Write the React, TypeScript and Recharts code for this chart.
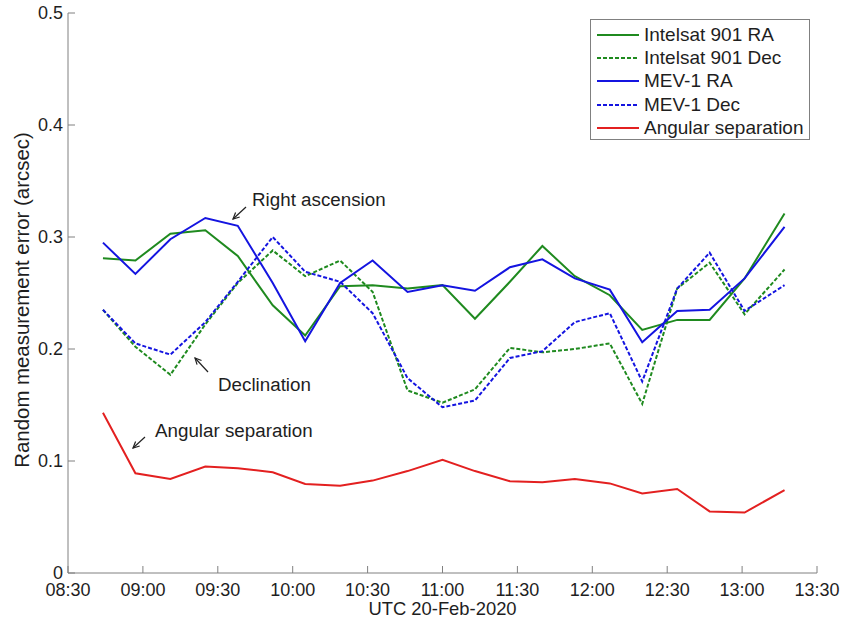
import React from 'react';
import { LineChart, Line, XAxis, YAxis, Legend } from 'recharts';

// observation epochs (UTC, 20-Feb-2020)
const times = [
  '08:44', '08:57', '09:11', '09:25', '09:38', '09:52', '10:05', '10:19', '10:32', '10:46',
  '11:00', '11:13', '11:27', '11:40', '11:53', '12:07', '12:20', '12:34', '12:47', '13:01', '13:17',
];

// random measurement error, arcsec
const intelsatRA = [
  0.281, 0.279, 0.303, 0.306, 0.283, 0.239, 0.212, 0.256, 0.257, 0.254,
  0.257, 0.227, 0.26, 0.292, 0.265, 0.248, 0.217, 0.226, 0.226, 0.263, 0.321,
];
const intelsatDec = [
  0.235, 0.202, 0.177, 0.222, 0.259, 0.288, 0.265, 0.279, 0.251, 0.163,
  0.152, 0.164, 0.201, 0.197, 0.2, 0.205, 0.151, 0.254, 0.277, 0.231, 0.271,
];
const mevRA = [
  0.295, 0.267, 0.298, 0.317, 0.31, 0.259, 0.207, 0.259, 0.279, 0.251,
  0.257, 0.252, 0.273, 0.28, 0.263, 0.253, 0.206, 0.234, 0.235, 0.263, 0.309,
];
const mevDec = [
  0.235, 0.205, 0.195, 0.224, 0.26, 0.3, 0.269, 0.26, 0.232, 0.174,
  0.148, 0.154, 0.192, 0.198, 0.224, 0.232, 0.171, 0.254, 0.286, 0.234, 0.257,
];
const angularSep = [
  0.143, 0.089, 0.084, 0.095, 0.0935, 0.09, 0.0795, 0.078, 0.0825, 0.091,
  0.101, 0.091, 0.082, 0.081, 0.084, 0.08, 0.071, 0.075, 0.055, 0.054, 0.074,
];

const xTickLabels = ['08:30', '09:00', '09:30', '10:00', '10:30', '11:00', '11:30', '12:00', '12:30', '13:00', '13:30'];
const yTicks = [0, 0.1, 0.2, 0.3, 0.4, 0.5];

const toMin = (t: string) => {
  const [h, m] = t.split(':').map(Number);
  return h * 60 + m;
};
const fmtTime = (v: number) =>
  `${String(Math.floor(v / 60)).padStart(2, '0')}:${String(v % 60).padStart(2, '0')}`;

const xTicks = xTickLabels.map(toMin);

const data = times.map((t, i) => ({
  t: toMin(t),
  intelsatRA: intelsatRA[i],
  intelsatDec: intelsatDec[i],
  mevRA: mevRA[i],
  mevDec: mevDec[i],
  angularSep: angularSep[i],
}));

const series = [
  { key: 'intelsatRA', name: 'Intelsat 901 RA', color: '#1f8a1f', dash: undefined },
  { key: 'intelsatDec', name: 'Intelsat 901 Dec', color: '#1f8a1f', dash: '4 2' },
  { key: 'mevRA', name: 'MEV-1 RA', color: '#1414e0', dash: undefined },
  { key: 'mevDec', name: 'MEV-1 Dec', color: '#1414e0', dash: '4 2' },
  { key: 'angularSep', name: 'Angular separation', color: '#e32020', dash: undefined },
];

const FONT = '"Liberation Sans", Arial, Helvetica, sans-serif';
const AXIS = '#808080';
const TEXT = '#1e1e1e';

const LegendBox = () => (
  <div
    style={{
      width: 220,
      height: 121,
      boxSizing: 'border-box',
      border: `1px solid ${AXIS}`,
      background: '#fff',
      padding: '3px 0 0 6px',
      fontFamily: FONT,
      fontSize: 19,
      color: TEXT,
    }}
  >
    {series.map((s) => (
      <div key={s.key} style={{ display: 'flex', alignItems: 'center', height: 23.3, whiteSpace: 'nowrap' }}>
        <svg width={42} height={4} style={{ marginRight: 5 }}>
          <line x1={0} y1={2} x2={42} y2={2} stroke={s.color} strokeWidth={2} strokeDasharray={s.dash} />
        </svg>
        <span>{s.name}</span>
      </div>
    ))}
  </div>
);

// small arrows used for the in-plot notes
const Arrow = ({ x1, y1, x2, y2 }: { x1: number; y1: number; x2: number; y2: number }) => {
  const a = Math.atan2(y2 - y1, x2 - x1);
  const h = 7;
  const p1 = [x2 - h * Math.cos(a - 0.45), y2 - h * Math.sin(a - 0.45)];
  const p2 = [x2 - h * Math.cos(a + 0.45), y2 - h * Math.sin(a + 0.45)];
  return (
    <g stroke="#222" strokeWidth={1.2} fill="none">
      <line x1={x1} y1={y1} x2={x2} y2={y2} />
      <polyline points={`${p1[0]},${p1[1]} ${x2},${y2} ${p2[0]},${p2[1]}`} />
    </g>
  );
};

const Notes = () => (
  <svg
    width={843}
    height={623}
    style={{ position: 'absolute', left: 0, top: 0, pointerEvents: 'none' }}
    fontFamily={FONT}
    fontSize={18.8}
    fill={TEXT}
  >
    <text x={252} y={206}>Right ascension</text>
    <Arrow x1={246} y1={207} x2={233} y2={219} />
    <text x={218} y={391}>Declination</text>
    <Arrow x1={208} y1={372} x2={195} y2={358} />
    <text x={155} y={437}>Angular separation</text>
    <Arrow x1={145} y1={437} x2={133} y2={448} />
  </svg>
);

export default function App() {
  return (
    <div style={{ position: 'absolute', left: 0, top: 0, width: 843, height: 623, background: '#fff' }}>
      <LineChart width={843} height={623} data={data} margin={{ top: 13, right: 26, bottom: 0, left: 0 }}>
        <XAxis
          dataKey="t"
          type="number"
          domain={[xTicks[0], xTicks[xTicks.length - 1]]}
          ticks={xTicks}
          tickFormatter={fmtTime}
          height={50}
          stroke={AXIS}
          tickSize={-7}
          tickMargin={17}
          tick={{ fill: TEXT, fontSize: 18, fontFamily: FONT }}
          label={{
            content: ({ viewBox }: any) => (
              <text
                x={viewBox.x + viewBox.width / 2}
                y={viewBox.y + 35}
                textAnchor="middle"
                dominantBaseline="central"
                fill={TEXT}
                fontSize={18.4}
                fontFamily={FONT}
              >
                UTC 20-Feb-2020
              </text>
            ),
          }}
        />
        <XAxis
          xAxisId="top"
          dataKey="t"
          type="number"
          orientation="top"
          domain={[xTicks[0], xTicks[xTicks.length - 1]]}
          ticks={xTicks}
          height={0}
          stroke={AXIS}
          tickSize={-7}
          tick={false}
        />
        <YAxis
          type="number"
          domain={[0, 0.5]}
          ticks={yTicks}
          width={68}
          stroke={AXIS}
          tickSize={-7}
          tickMargin={12}
          tick={{ fill: TEXT, fontSize: 18, fontFamily: FONT }}
          label={{
            content: ({ viewBox }: any) => {
              const cx = viewBox.x + 22;
              const cy = viewBox.y + viewBox.height / 2 + 7;
              return (
                <text
                  x={cx}
                  y={cy}
                  transform={`rotate(-90 ${cx} ${cy})`}
                  textAnchor="middle"
                  dominantBaseline="central"
                  fill={TEXT}
                  fontSize={20.4}
                  fontFamily={FONT}
                >
                  Random measurement error (arcsec)
                </text>
              );
            },
          }}
        />
        <YAxis
          yAxisId="right"
          orientation="right"
          type="number"
          domain={[0, 0.5]}
          ticks={yTicks}
          width={0}
          stroke={AXIS}
          tickSize={-7}
          tick={false}
        />
        {series.map((s) => (
          <Line
            key={s.key}
            dataKey={s.key}
            name={s.name}
            type="linear"
            stroke={s.color}
            strokeWidth={2}
            strokeDasharray={s.dash}
            dot={false}
            activeDot={false}
            isAnimationActive={false}
          />
        ))}
        <Legend
          layout="horizontal"
          verticalAlign="middle"
          align="center"
          wrapperStyle={{ top: 19, left: 590, width: 220 }}
          content={() => <LegendBox />}
        />
      </LineChart>
      <Notes />
    </div>
  );
}
